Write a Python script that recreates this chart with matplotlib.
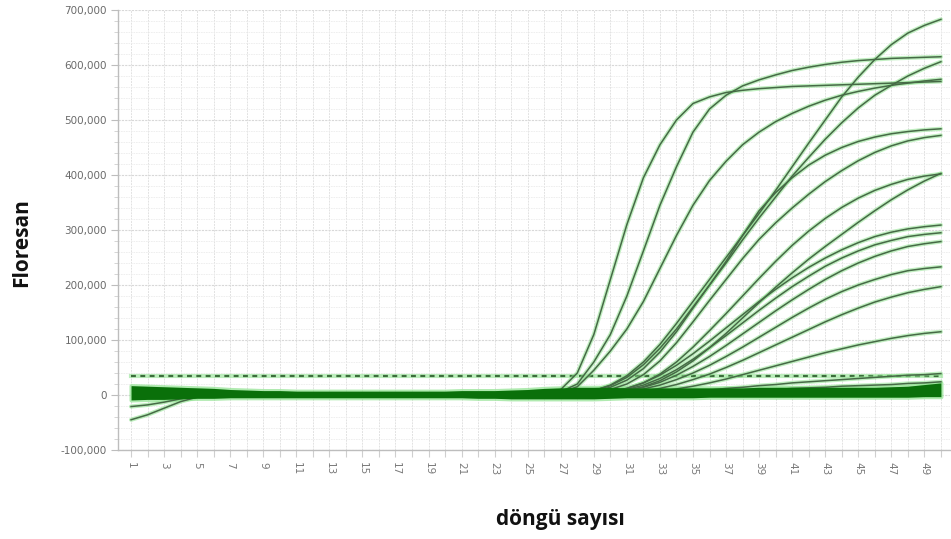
import matplotlib
matplotlib.use("Agg")
import matplotlib.pyplot as plt
from matplotlib.ticker import FixedLocator, MultipleLocator, FuncFormatter

# ---------------- data ----------------
cycles = list(range(1, 51))
amp_cycles = list(range(24, 51))          # cycles 24..50 for amplified curves

curve_a = [0, 0, 3e3, 10e3, 40e3, 110e3, 210e3, 310e3, 395e3, 455e3, 500e3, 530e3, 542e3, 550e3, 554e3,
           557e3, 559e3, 561e3, 562e3, 563e3, 564e3, 565e3, 566e3, 567e3, 568e3, 569e3, 570e3]
curve_b = [0, 0, 2e3, 6e3, 20e3, 60e3, 110e3, 180e3, 262e3, 345e3, 415e3, 478e3, 520e3, 545e3, 562e3,
           573e3, 582e3, 590e3, 596e3, 601e3, 605e3, 608e3, 610e3, 612e3, 613e3, 614e3, 615e3]
curve_c = [0, 0, 2e3, 5e3, 15e3, 45e3, 80e3, 120e3, 170e3, 230e3, 290e3, 345e3, 390e3, 425e3, 455e3,
           478e3, 497e3, 512e3, 525e3, 536e3, 545e3, 552e3, 558e3, 563e3, 567e3, 571e3, 574e3]
curve_d = [0, 0, 0, 1e3, 3e3, 8e3, 18e3, 35e3, 60e3, 92e3, 130e3, 170e3, 210e3, 250e3, 290e3,
           330e3, 372e3, 415e3, 458e3, 500e3, 542e3, 578e3, 610e3, 637e3, 658e3, 672e3, 683e3]
curve_e = [0, 0, 0, 1e3, 3e3, 8e3, 17e3, 32e3, 55e3, 85e3, 120e3, 160e3, 200e3, 240e3, 282e3,
           322e3, 360e3, 398e3, 432e3, 465e3, 495e3, 522e3, 545e3, 563e3, 580e3, 594e3, 606e3]
curve_f = [0, 0, 0, 1e3, 3e3, 7e3, 14e3, 27e3, 48e3, 78e3, 115e3, 158e3, 200e3, 243e3, 290e3,
           335e3, 368e3, 395e3, 418e3, 436e3, 450e3, 461e3, 469e3, 475e3, 479e3, 482e3, 484e3]
curve_g = [0, 0, 0, 1e3, 2e3, 5e3, 10e3, 20e3, 37e3, 62e3, 95e3, 133e3, 172e3, 210e3, 248e3,
           283e3, 313e3, 340e3, 365e3, 388e3, 408e3, 426e3, 441e3, 453e3, 462e3, 468e3, 472e3]
curve_h = [0, 0, 0, 0, 1e3, 3e3, 6e3, 12e3, 22e3, 38e3, 60e3, 87e3, 117e3, 148e3, 180e3,
           212e3, 243e3, 272e3, 298e3, 321e3, 341e3, 358e3, 372e3, 383e3, 392e3, 398e3, 402e3]
curve_i = [0, 0, 0, 0, 1e3, 2e3, 4e3, 8e3, 15e3, 26e3, 42e3, 62e3, 86e3, 112e3, 140e3,
           168e3, 196e3, 222e3, 247e3, 270e3, 292e3, 314e3, 335e3, 355e3, 373e3, 389e3, 403e3]
curve_j = [0, 0, 0, 0, 1e3, 3e3, 6e3, 12e3, 22e3, 36e3, 54e3, 75e3, 98e3, 122e3, 146e3,
           170e3, 192e3, 213e3, 232e3, 249e3, 264e3, 277e3, 288e3, 296e3, 302e3, 306e3, 309e3]
curve_k = [0, 0, 0, 0, 0, 2e3, 5e3, 10e3, 18e3, 30e3, 46e3, 65e3, 86e3, 108e3, 131e3,
           154e3, 176e3, 197e3, 216e3, 234e3, 249e3, 262e3, 273e3, 281e3, 288e3, 292e3, 295e3]
curve_l = [0, 0, 0, 0, 0, 2e3, 4e3, 8e3, 14e3, 23e3, 36e3, 52e3, 70e3, 90e3, 111e3,
           132e3, 153e3, 173e3, 192e3, 210e3, 226e3, 240e3, 252e3, 262e3, 270e3, 275e3, 279e3]
curve_m = [0, 0, 0, 0, 0, 0, 3e3, 6e3, 11e3, 18e3, 28e3, 40e3, 54e3, 70e3, 87e3,
           105e3, 123e3, 141e3, 158e3, 174e3, 188e3, 200e3, 210e3, 219e3, 226e3, 230e3, 233e3]
curve_n = [0, 0, 0, 0, 0, 0, 2e3, 4e3, 7e3, 12e3, 19e3, 28e3, 38e3, 50e3, 63e3,
           77e3, 91e3, 105e3, 119e3, 133e3, 146e3, 158e3, 169e3, 178e3, 186e3, 192e3, 197e3]
curve_o = [0, 0, 0, 0, 0, 0, 0, 2e3, 4e3, 7e3, 11e3, 16e3, 22e3, 29e3, 37e3,
           45e3, 53e3, 61e3, 69e3, 77e3, 84e3, 91e3, 97e3, 103e3, 108e3, 112e3, 115e3]
curve_p = [0, 0, 0, 0, 0, 0, 0, 1e3, 2e3, 3e3, 5e3, 7e3, 9e3, 12e3, 14e3,
           17e3, 19e3, 22e3, 24e3, 26e3, 28e3, 30e3, 32e3, 34e3, 36e3, 37e3, 39e3]
curve_q = [0, 0, 0, 0, 0, 0, 0, 0, 1e3, 2e3, 3e3, 4e3, 5e3, 6e3, 8e3,
           9e3, 10e3, 12e3, 13e3, 14e3, 16e3, 17e3, 18e3, 19e3, 21e3, 22e3, 24e3]

amplified = [curve_a, curve_b, curve_c, curve_d, curve_e, curve_f, curve_g, curve_h, curve_i,
             curve_j, curve_k, curve_l, curve_m, curve_n, curve_o, curve_p, curve_q]

# baseline band (many overlapping flat curves): upper / lower envelope per cycle
band_upper = [17e3, 16e3, 15e3, 14e3, 13e3, 12e3, 10e3, 9e3, 8e3, 8e3,
              7e3, 7e3, 7e3, 7e3, 7e3, 7e3, 7e3, 7e3, 7e3, 7e3,
              8e3, 8e3, 8e3, 9e3, 10e3, 12e3, 13e3, 14e3, 14e3, 14e3,
              13e3, 13e3, 13e3, 13e3, 13e3, 13e3, 13e3, 13e3, 14e3, 14e3,
              14e3, 14e3, 14e3, 14e3, 14e3, 14e3, 15e3, 16e3, 19e3, 22e3]
band_lower = [-9e3, -8e3, -8e3, -7e3, -6e3, -6e3, -5e3, -5e3, -5e3, -5e3,
              -5e3, -5e3, -5e3, -5e3, -5e3, -5e3, -5e3, -5e3, -5e3, -5e3,
              -5e3, -6e3, -6e3, -7e3, -7e3, -7e3, -7e3, -7e3, -7e3, -6e3,
              -5e3, -5e3, -5e3, -5e3, -5e3, -4e3, -4e3, -4e3, -4e3, -4e3,
              -4e3, -4e3, -4e3, -4e3, -4e3, -4e3, -4e3, -4e3, -3e3, -3e3]

neg_cycles = [1, 2, 3, 4, 5, 6, 7]
neg_curve_1 = [-45e3, -36e3, -24e3, -12e3, -4e3, 0, 1e3]
neg_curve_2 = [-21e3, -18e3, -13e3, -7e3, -3e3, 0, 1e3]

threshold = 35e3

y_ticks = [-100000, 0, 100000, 200000, 300000, 400000, 500000, 600000, 700000]
x_tick_labels = [str(c) if c % 2 == 1 else "" for c in cycles]

# ---------------- style ----------------
LINE = "#466a46"
HALO = "#8fe28f"
BAND = "#0a700a"

fig = plt.figure(figsize=(9.51, 5.39), dpi=100)
fig.patch.set_facecolor("white")
ax = fig.add_axes([118 / 951, 89 / 539, 832 / 951, 440 / 539])
ax.set_facecolor("white")

ax.set_xlim(0.21, 50.55)
ax.set_ylim(-100000, 700000)

# grids
ax.yaxis.set_major_locator(FixedLocator(y_ticks))
ax.yaxis.set_minor_locator(MultipleLocator(20000))
ax.xaxis.set_major_locator(FixedLocator(cycles))
ax.set_xticklabels(x_tick_labels)
ax.grid(which="major", axis="y", color="#d8d8d8", linestyle=(0, (2, 1)), linewidth=0.8)
ax.grid(which="minor", axis="y", color="#ececec", linestyle=(0, (2, 1)), linewidth=0.6)
ax.grid(which="major", axis="x", color="#e2e2e2", linestyle=(0, (2, 1)), linewidth=0.7)
ax.set_axisbelow(True)

for s in ["top", "right"]:
    ax.spines[s].set_visible(False)
for s in ["left", "bottom"]:
    ax.spines[s].set_color("#bdbdbd")
    ax.spines[s].set_linewidth(1.0)

ax.yaxis.set_major_formatter(FuncFormatter(lambda v, p: f"{int(v):,}"))
ax.tick_params(axis="y", which="major", length=5, color="#bdbdbd", labelsize=7.5,
               labelcolor="#6a6a6a", pad=3)
ax.tick_params(axis="y", which="minor", length=3, color="#cfcfcf")
ax.tick_params(axis="x", which="major", length=5, color="#cfcfcf", labelsize=7.5,
               labelcolor="#7a7a7a", labelrotation=270, pad=4)

# threshold
ax.plot([cycles[0], cycles[-1]], [threshold, threshold], color=HALO, lw=3, alpha=0.6, zorder=2)
ax.plot([cycles[0], cycles[-1]], [threshold, threshold], color="#3c6e3c", lw=1.6,
        linestyle=(0, (2.2, 2.0)), zorder=3)

# baseline band halo
ax.fill_between(cycles, band_lower, band_upper, color=HALO, alpha=0.7, lw=3, edgecolor=HALO, zorder=3)

# negative starting curves
for nc in (neg_curve_1, neg_curve_2):
    ax.plot(neg_cycles, nc, color=HALO, lw=3, alpha=0.6, zorder=3, solid_capstyle="round")
    ax.plot(neg_cycles, nc, color=LINE, lw=1.1, zorder=4)

# amplified curves
for cv in amplified:
    ax.plot(amp_cycles, cv, color=HALO, lw=3.0, alpha=0.55, zorder=5, solid_capstyle="round")
for cv in amplified:
    ax.plot(amp_cycles, cv, color=LINE, lw=1.1, zorder=6)

# baseline band fill on top
ax.fill_between(cycles, band_lower, band_upper, color=BAND, lw=0, zorder=7)

# labels
fig.text(560 / 951, 1 - 520 / 539, "döngü sayısı", ha="center", va="center",
         fontsize=15, fontweight="bold", family="Open Sans", color="#111111")
fig.text(22 / 951, 1 - 243 / 539, "Floresan", ha="center", va="center", rotation=90,
         fontsize=15, fontweight="bold", family="Open Sans", color="#111111")

fig.savefig("out.png", dpi=100, facecolor="white")
